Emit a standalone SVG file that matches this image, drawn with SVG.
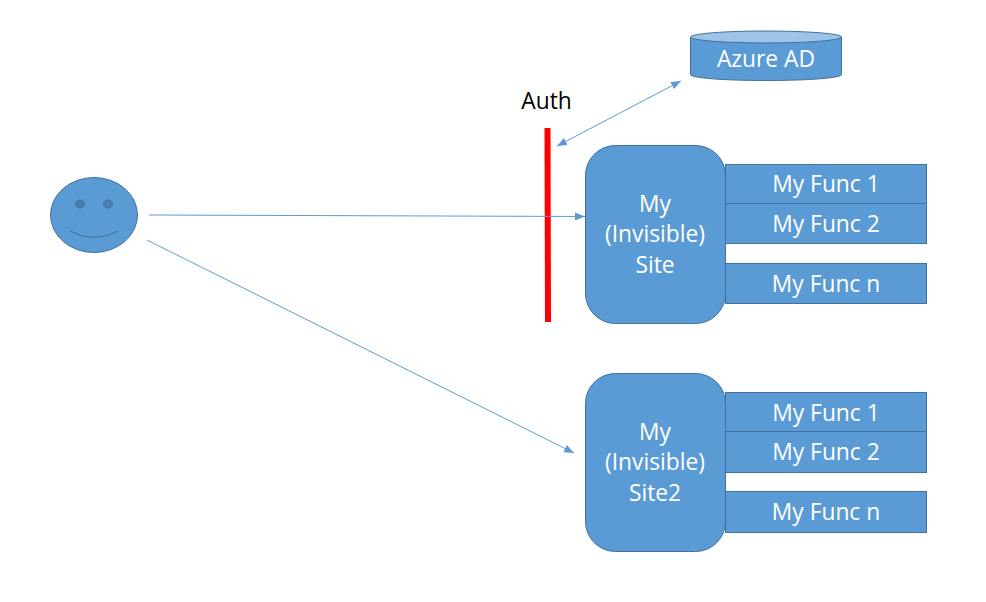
<svg xmlns="http://www.w3.org/2000/svg" width="986" height="602" viewBox="0 0 986 602">
  <style>
    .shape { fill: #5B9BD5; stroke: #41719C; stroke-width: 1; }
    .dark { fill: #4A7EAD; stroke: #41719C; stroke-width: 1; }
    .label { font-family: "Open Sans", "Noto Sans", sans-serif; font-size: 22.8px; fill: #fff; text-anchor: middle; }
    .conn { fill: none; stroke: #5B9BD5; stroke-width: 1; }
  </style>
  <defs>
    <marker id="head" viewBox="0 0 10 8" refX="10" refY="4" markerWidth="10" markerHeight="8" markerUnits="userSpaceOnUse" orient="auto-start-reverse">
      <path d="M0 0L10 4L0 8Z" fill="#5B9BD5"/>
    </marker>
  </defs>
  <rect width="986" height="602" fill="#fff"/>

  <g id="user">
    <ellipse class="shape" cx="94" cy="215" rx="43.500" ry="37.500"/>
    <ellipse class="dark" cx="80" cy="204" rx="4.500" ry="4"/>
    <ellipse class="dark" cx="108" cy="204" rx="4.500" ry="4"/>
    <path d="M70 231Q94 244 118 231" fill="none" stroke="#41719C"/>
  </g>

  <g id="azure-ad">
    <path class="shape" d="M690.500 37V74.500C690.500 78 724 80.500 766 80.500S841.500 78 841.500 74.500V37Z"/>
    <ellipse cx="766" cy="37" rx="75.500" ry="6" fill="#9DC3E6" stroke="#41719C"/>
    <text class="label" x="766" y="67">Azure AD</text>
  </g>

  <g id="auth">
    <text x="546.500" y="109" font-family="'Open Sans', 'Noto Sans', sans-serif" font-size="22.800" text-anchor="middle" fill="#000">Auth</text>
    <path d="M547.500 128L548 322" fill="none" stroke="#FF0000" stroke-width="6"/>
  </g>

  <g id="site">
    <rect class="shape" x="585.500" y="145.500" width="140" height="178" rx="30"/>
    <text class="label" x="655" y="212">My</text>
    <text class="label" x="655" y="242">(Invisible)</text>
    <text class="label" x="655" y="273">Site</text>
  </g>
  <g id="site-func-1">
    <rect class="shape" x="725.500" y="164.500" width="201" height="39"/>
    <text class="label" x="826" y="192">My Func 1</text>
  </g>
  <g id="site-func-2">
    <rect class="shape" x="725.500" y="203.500" width="201" height="40"/>
    <text class="label" x="826" y="232">My Func 2</text>
  </g>
  <g id="site-func-n">
    <rect class="shape" x="725.500" y="263.500" width="201" height="40"/>
    <text class="label" x="826" y="292">My Func n</text>
  </g>

  <g id="site2">
    <rect class="shape" x="585.500" y="373.500" width="140" height="178" rx="30"/>
    <text class="label" x="655" y="440">My</text>
    <text class="label" x="655" y="470">(Invisible)</text>
    <text class="label" x="655" y="501">Site2</text>
  </g>
  <g id="site2-func-1">
    <rect class="shape" x="725.500" y="392.500" width="201" height="39"/>
    <text class="label" x="826" y="421">My Func 1</text>
  </g>
  <g id="site2-func-2">
    <rect class="shape" x="725.500" y="431.500" width="201" height="41"/>
    <text class="label" x="826" y="460">My Func 2</text>
  </g>
  <g id="site2-func-n">
    <rect class="shape" x="725.500" y="491.500" width="201" height="41"/>
    <text class="label" x="826" y="520">My Func n</text>
  </g>

  <g id="connectors">
    <path class="conn" d="M149 215L585 216.500" marker-end="url(#head)"/>
    <path class="conn" d="M147 240L574 453" marker-end="url(#head)"/>
    <path class="conn" d="M557 146L681 81" marker-start="url(#head)" marker-end="url(#head)"/>
  </g>
</svg>
